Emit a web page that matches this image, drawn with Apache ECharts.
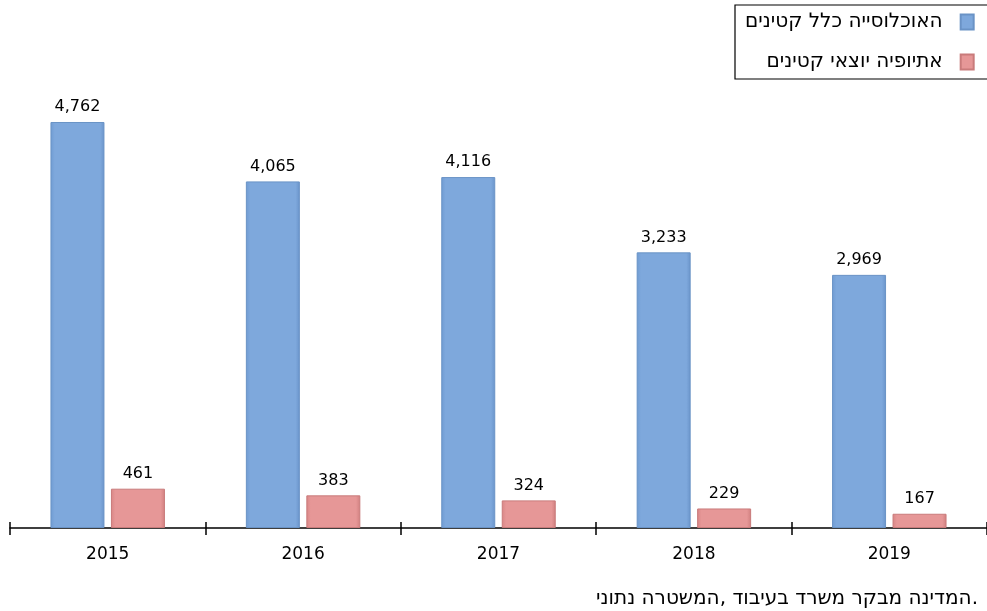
<!DOCTYPE html>
<html>
<head>
<meta charset="utf-8">
<script src="https://cdn.jsdelivr.net/npm/echarts@6/dist/echarts.min.js"></script>
<style>
html,body{margin:0;padding:0;background:#fff;}
#main{width:987px;height:611px;}
</style>
</head>
<body>
<div id="main"></div>
<script>
// Data
var categories = ['2015', '2016', '2017', '2018', '2019'];
var seriesNames = ['האוכלוסייה כלל קטינים', 'אתיופיה יוצאי קטינים'];
var allMinors = [4762, 4065, 4116, 3233, 2969];
var ethiopianMinors = [461, 383, 324, 229, 167];
var sourceText = 'המדינה מבקר משרד בעיבוד ,המשטרה נתוני.';

var chart = echarts.init(document.getElementById('main'), null, {renderer: 'canvas'});
var font = 'Tahoma, "DejaVu Sans", Verdana, sans-serif';
function fmt(p) { return Number(p.value).toLocaleString('en-US'); }

chart.setOption({
  animation: false,
  backgroundColor: '#ffffff',
  textStyle: {fontFamily: font},
  grid: {left: 10, width: 984, top: 101.7, bottom: 83, containLabel: false},
  legend: {
    data: seriesNames,
    orient: 'vertical',
    align: 'right',
    left: 735,
    top: 5,
    padding: [5, 14, 5, 10],
    itemGap: 16,
    itemWidth: 13,
    itemHeight: 15,
    icon: 'rect',
    borderColor: '#000',
    borderWidth: 1.2,
    textStyle: {fontFamily: font, fontSize: 20, color: '#000', lineHeight: 24, padding: [0, 13, 0, 0]}
  },
  xAxis: [
    {
      type: 'category',
      data: categories,
      axisLine: {lineStyle: {color: '#000', width: 1.5}},
      axisTick: {show: true, length: 7, lineStyle: {color: '#000', width: 1.5}},
      axisLabel: {color: '#000', fontSize: 17, margin: 18, fontFamily: font}
    },
    {
      type: 'category',
      data: categories,
      position: 'bottom',
      axisLine: {show: false},
      axisTick: {show: true, inside: true, length: 6, lineStyle: {color: '#000', width: 1.5}},
      axisLabel: {show: false}
    }
  ],
  yAxis: {
    type: 'value',
    min: 0,
    max: 5000,
    show: false,
    splitLine: {show: false}
  },
  series: [
    {
      name: seriesNames[0],
      type: 'bar',
      data: allMinors,
      barWidth: 54,
      barGap: '12%',
      itemStyle: {
        color: new echarts.graphic.LinearGradient(0, 0, 1, 0, [
          {offset: 0, color: '#6f9bd2'},
          {offset: 0.08, color: '#7ea8dc'},
          {offset: 0.92, color: '#7ea8dc'},
          {offset: 1, color: '#6a94ca'}
        ]),
        borderColor: '#6a93c6',
        borderWidth: 1
      },
      label: {show: true, position: 'top', distance: 7, color: '#000', fontSize: 16, fontFamily: font, formatter: fmt}
    },
    {
      name: seriesNames[1],
      type: 'bar',
      data: ethiopianMinors,
      barWidth: 54,
      itemStyle: {
        color: new echarts.graphic.LinearGradient(0, 0, 1, 0, [
          {offset: 0, color: '#d88585'},
          {offset: 0.08, color: '#e69797'},
          {offset: 0.92, color: '#e69797'},
          {offset: 1, color: '#d07f7f'}
        ]),
        borderColor: '#c97b7b',
        borderWidth: 1
      },
      label: {show: true, position: 'top', distance: 7, color: '#000', fontSize: 16, fontFamily: font, formatter: fmt}
    }
  ],
  graphic: [
    {
      type: 'text',
      x: 978,
      y: 589,
      style: {text: sourceText, fill: '#000', font: '20px ' + font, textAlign: 'right', textVerticalAlign: 'top'}
    }
  ]
});
</script>
</body>
</html>
